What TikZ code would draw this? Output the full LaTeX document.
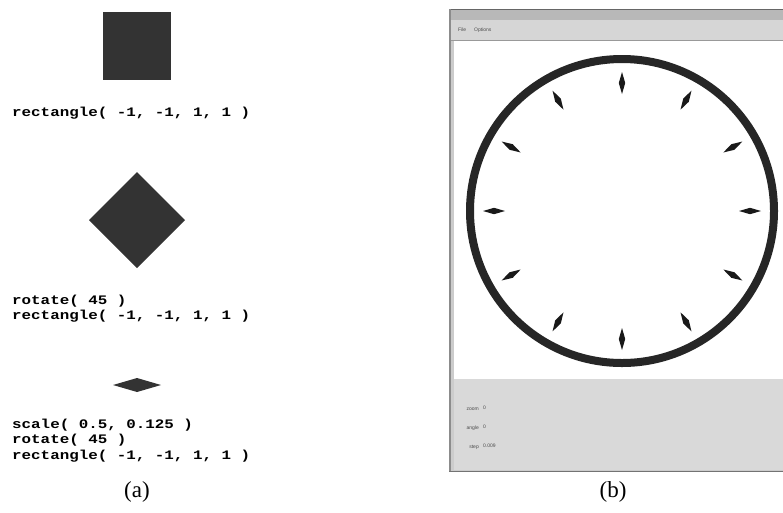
\documentclass[tikz,border=0pt]{standalone}
\usepackage{fontspec}
\setmainfont{Liberation Serif}
\newfontfamily\codefont[FakeStretch=1.22]{Liberation Mono}
\newfontfamily\uifont{Liberation Sans}
\begin{document}
\begin{tikzpicture}[x=1pt,y=-1pt,
  code/.style={anchor=base west,inner sep=0pt,font=\codefont\bfseries\fontsize{13}{15}\selectfont},
  captext/.style={inner sep=0pt,font=\fontsize{23}{25}\selectfont},
  ui/.style={inner sep=0pt,text=black!70,font=\uifont\fontsize{5}{6}\selectfont},
  shapefill/.style={fill=black!80},
  tickfill/.style={fill=black!90}]
\useasboundingbox (0,0) rectangle (783,512);
% ---------- panel (a)
\fill[shapefill] (103,12) rectangle (171,80);
\node[code] (t1) at (12,116) {rectangle( -1, -1, 1, 1 )};
\fill[shapefill] (137,172) -- (185,220) -- (137,268) -- (89,220) -- cycle;
\node[code] (t2a) at (12,304) {rotate( 45 )};
\node[code] (t2b) at (12,319) {rectangle( -1, -1, 1, 1 )};
\fill[shapefill] (113,385) -- (137,378) -- (161,385) -- (137,392) -- cycle;
\node[code] (t3a) at (12,428) {scale( 0.5, 0.125 )};
\node[code] (t3b) at (12,443) {rotate( 45 )};
\node[code] (t3c) at (12,459) {rectangle( -1, -1, 1, 1 )};
\node[captext] (capa) at (137,492) {(a)};
% ---------- panel (b)
\fill[black!20] (449,9) rectangle (783,472);
\fill[black!28] (449,9) rectangle (783,20);
\draw[black!60,line width=1] (449,9.5) -- (783,9.5);
\fill[black!16] (449,20) rectangle (783,40);
\draw[black!40,line width=0.6] (449,40) -- (783,40);
\node[ui,anchor=west] (mfile) at (458,30) {File};
\node[ui,anchor=west] (mopt) at (474,30) {Options};
\fill[white] (454,41) rectangle (783,379);
\draw[black!45,line width=1.2] (450,9) -- (450,472);
\draw[black!55,line width=1] (449,471.5) -- (783,471.5);
\fill[black!15] (454,379) rectangle (783,470);
% labels in the bottom panel
\node[ui,anchor=east] (l1) at (479,409) {zoom};
\node[ui,anchor=west] (v1) at (483,408) {0};
\node[ui,anchor=east] (l2) at (479,428) {angle};
\node[ui,anchor=west] (v2) at (483,427) {0};
\node[ui,anchor=east] (l3) at (479,447) {step};
\node[ui,anchor=west] (v3) at (483,446) {0.009};
% clock
\coordinate (c) at (622,211);
\draw[black!85,line width=8pt] (c) circle (152pt);
\foreach \a in {0,30,...,330}{
  \begin{scope}[shift={(c)},rotate=\a]
    \fill[tickfill] (117,0) -- (128,3.2) -- (139,0) -- (128,-3.2) -- cycle;
  \end{scope}
}
\node[captext] (capb) at (613,492) {(b)};
\end{tikzpicture}
\end{document}
